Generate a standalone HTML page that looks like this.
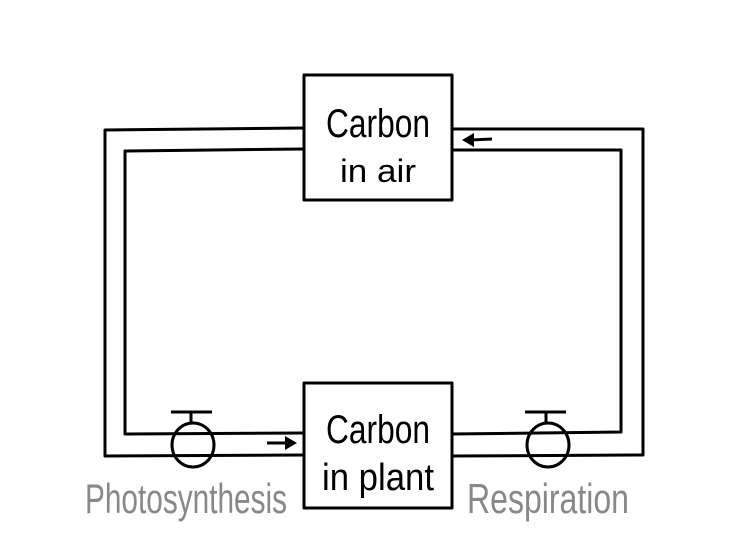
<!DOCTYPE html>
<html><head><style>
html,body{margin:0;padding:0;background:#fff;}
svg{display:block;}
.t{font-family:"Liberation Sans",sans-serif;}
</style></head><body>
<svg width="755" height="543" viewBox="0 0 755 543" xmlns="http://www.w3.org/2000/svg">
<g fill="none" stroke="#000" stroke-width="3" stroke-linejoin="round">
<polyline points="304,128 105,130 105,456 304,455"/>
<polyline points="304,149 125,151 125,434 304,433"/>
<polyline points="452,129 643,129 643,455 452,456"/>
<polyline points="452,150 621,150 621,432 452,434"/>
<rect x="304" y="75" width="148" height="125"/>
<rect x="304" y="383" width="148" height="125"/>
<ellipse cx="193" cy="445" rx="21" ry="22"/>
<line x1="191" y1="412" x2="191" y2="423"/>
<line x1="171" y1="412" x2="212" y2="412"/>
<ellipse cx="548" cy="445" rx="21" ry="22"/>
<line x1="546" y1="412" x2="546" y2="423"/>
<line x1="525" y1="412" x2="566" y2="412"/>
<line x1="267" y1="443" x2="288" y2="443"/>
<line x1="470" y1="140" x2="492" y2="139"/>
</g>
<polygon points="297,443 285,436 285,450" fill="#000"/>
<polygon points="462,140 474,133 474,147" fill="#000"/>
<g class="t" text-anchor="middle" fill="#000">
<text x="378" y="137" font-size="40" textLength="104" lengthAdjust="spacingAndGlyphs">Carbon</text>
<text x="378" y="182" font-size="32" textLength="76" lengthAdjust="spacingAndGlyphs">in air</text>
<text x="378" y="443" font-size="40" textLength="104" lengthAdjust="spacingAndGlyphs">Carbon</text>
<text x="378" y="490" font-size="38" textLength="112" lengthAdjust="spacingAndGlyphs">in plant</text>
</g>
<g class="t" fill="#888" font-size="42">
<text x="85" y="513" textLength="202" lengthAdjust="spacingAndGlyphs">Photosynthesis</text>
<text x="467" y="513" textLength="162" lengthAdjust="spacingAndGlyphs">Respiration</text>
</g>
</svg>
</body></html>
